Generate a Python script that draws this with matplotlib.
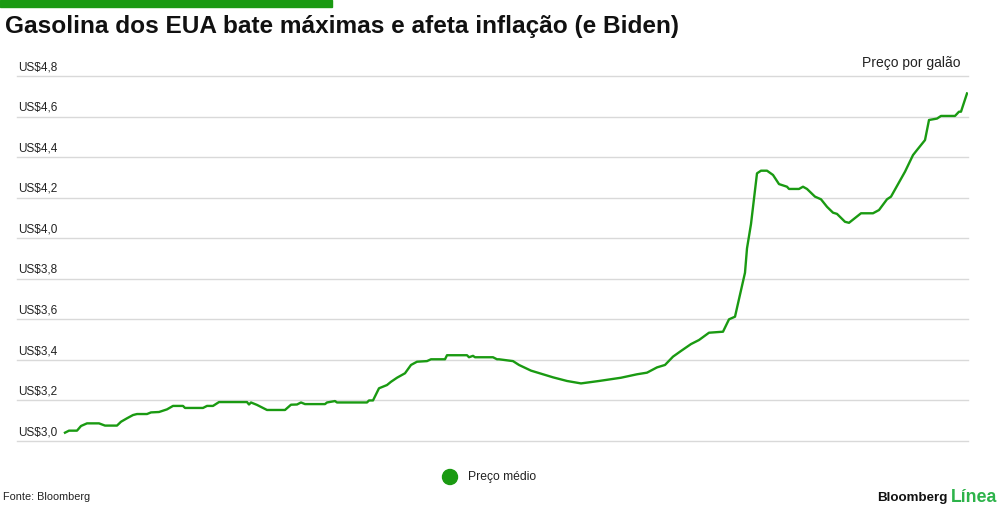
import matplotlib.pyplot as plt
import matplotlib.patches as mpatches

plt.rcParams['font.family'] = ['Liberation Sans', 'DejaVu Sans']

# dias desde o início da série e preço médio por galão (US$)
dias = [0, 2, 6, 8, 11, 17, 20, 26, 28, 31, 34, 36, 41, 43, 47, 51, 54, 59, 60, 69,
        71, 74, 77, 91, 92, 93, 96, 98, 101, 110, 113, 116, 118, 120, 130, 131, 135, 136,
        151, 152, 154, 157, 161, 163, 166, 170, 173, 176, 181, 183, 190, 191, 201, 202,
        204, 205, 214, 216, 217, 224, 227, 233, 239, 244, 251, 258, 267, 278, 286, 291,
        296, 300, 304, 308, 313, 317, 322, 329, 332, 335, 337, 340, 341, 343, 346, 348,
        351, 354, 357, 361, 362, 367, 369, 371, 375, 378, 381, 384, 386, 390, 392, 398,
        404, 407, 411, 413, 420, 424, 426, 430, 432, 436, 438, 445, 447, 448, 451]
precos = [3.041, 3.051, 3.051, 3.074, 3.087, 3.087, 3.076, 3.076, 3.095, 3.112, 3.128,
          3.133, 3.133, 3.141, 3.143, 3.156, 3.173, 3.173, 3.163, 3.163, 3.173, 3.173,
          3.192, 3.192, 3.180, 3.190, 3.178, 3.168, 3.153, 3.153, 3.179, 3.180, 3.190,
          3.182, 3.182, 3.190, 3.197, 3.190, 3.190, 3.200, 3.200, 3.260, 3.276, 3.292,
          3.312, 3.334, 3.375, 3.391, 3.394, 3.403, 3.403, 3.423, 3.423, 3.413, 3.420,
          3.413, 3.413, 3.403, 3.403, 3.394, 3.375, 3.347, 3.329, 3.314, 3.296, 3.284,
          3.296, 3.312, 3.329, 3.337, 3.363, 3.375, 3.416, 3.444, 3.478, 3.498, 3.534,
          3.539, 3.600, 3.613, 3.700, 3.830, 3.950, 4.070, 4.320, 4.333, 4.333, 4.312,
          4.267, 4.254, 4.243, 4.243, 4.254, 4.243, 4.205, 4.192, 4.155, 4.126, 4.120,
          4.081, 4.076, 4.123, 4.123, 4.139, 4.192, 4.205, 4.328, 4.410, 4.435, 4.484,
          4.583, 4.590, 4.603, 4.603, 4.624, 4.624, 4.714]

yticks = [3.0, 3.2, 3.4, 3.6, 3.8, 4.0, 4.2, 4.4, 4.6, 4.8]
ytick_labels = ['US$3,0', 'US$3,2', 'US$3,4', 'US$3,6', 'US$3,8',
                'US$4,0', 'US$4,2', 'US$4,4', 'US$4,6', 'US$4,8']

verde = '#1a9a12'

fig = plt.figure(figsize=(10, 5.07), dpi=100)
fig.patch.set_facecolor('white')

# eixo: grade de y=76px (4,8) a y=441px (3,0), x de 17px a 968px
ax = fig.add_axes([0.017, (507 - 441) / 507, 0.951, (441 - 76) / 507])
ax.plot(dias, precos, color=verde, linewidth=1.7, solid_joinstyle='round')
ax.set_xlim(-24, 451.5)
ax.set_ylim(3.0, 4.8)
for y, lab in zip(yticks, ytick_labels):
    ax.axhline(y, color='#d9d9d9', linewidth=1, zorder=0, clip_on=False)
    ax.annotate(lab, xy=(0, y), xycoords=('axes fraction', 'data'),
                xytext=(0.5, 2), textcoords='offset points',
                ha='left', va='bottom', fontsize=8.5, color='#222222')
for s in ax.spines.values():
    s.set_visible(False)
ax.set_xticks([])
ax.set_yticks([])

# barra verde no topo
fig.patches.append(mpatches.Rectangle((0, 1 - 7 / 507), 0.332, 7 / 507,
                                      transform=fig.transFigure, color=verde))

fig.text(0.005, 1 - 27 / 507, 'Gasolina dos EUA bate máximas e afeta inflação (e Biden)',
         fontsize=17.6, fontweight='bold', color='#111111', va='center', ha='left')
fig.text(0.960, 1 - 63 / 507, 'Preço por galão', fontsize=10, color='#222222',
         ha='right', va='center')

# legenda
fig.add_artist(mpatches.Ellipse((0.450, 1 - 477 / 507), 15 / 1000, 15 / 507,
                                transform=fig.transFigure, color=verde))
fig.text(0.468, 1 - 477 / 507, 'Preço médio', fontsize=8.7, color='#222222',
         ha='left', va='center')

fig.text(0.003, 1 - 497 / 507, 'Fonte: Bloomberg', fontsize=7.8, color='#222222',
         ha='left', va='center')
fig.text(0.951, 1 - 498 / 507, 'Línea', fontsize=12.8, fontweight='bold',
         color='#2db34a', ha='left', va='center')
fig.text(0.947, 1 - 498 / 507, 'Bloomberg', fontsize=9.6, fontweight='bold',
         color='#111111', ha='right', va='center')

fig.savefig('out.png', dpi=100)
